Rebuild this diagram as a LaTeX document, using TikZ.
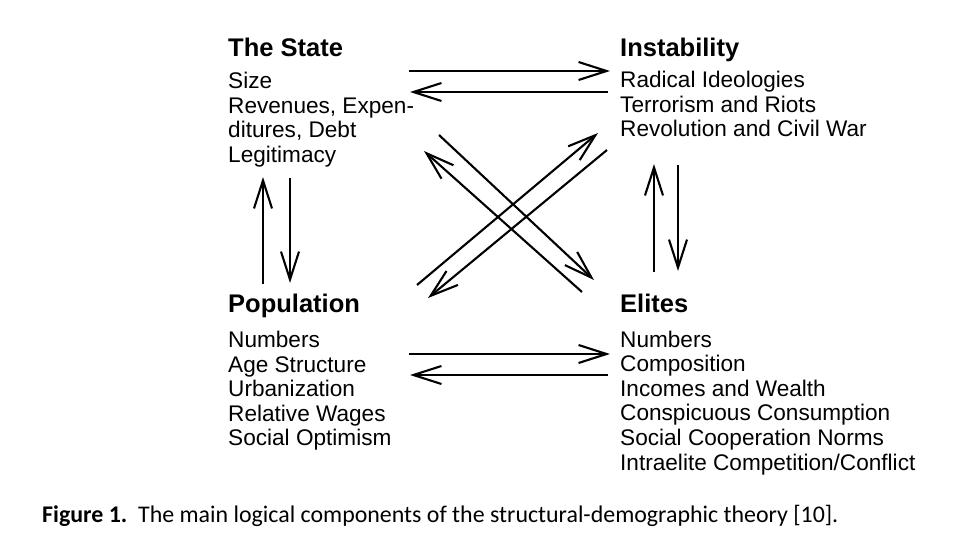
\documentclass[tikz,border=0pt]{standalone}
\usepackage{fontspec}
\setmainfont{Liberation Sans}
\newfontfamily\capfont{Carlito}
\usetikzlibrary{arrows.meta}
\begin{document}
\begin{tikzpicture}[x=1pt,y=-1pt,
  head/.style={font=\fontsize{25.5}{28}\selectfont\bfseries, anchor=base west, inner sep=0pt},
  items/.style={font=\fontsize{22.6}{24.5}\selectfont, anchor=base west, inner sep=0pt},
  arr/.style={line width=2.1pt, -{Straight Barb[length=28pt,width=18pt,line width=2.1pt]}},
  captext/.style={font=\capfont\fontsize{23.9}{26}\selectfont, anchor=base west, inner sep=0pt}
]
\useasboundingbox (0,0) rectangle (980,557);
\fill[white] (0,0) rectangle (980,557);

% titles
\node[head] (stateT) at (228,56) {The State};
\node[head] (instT) at (620,56) {Instability};
\node[head] (popT) at (228,312) {Population};
\node[head] (eliT) at (620,312) {Elites};

% item lists
\foreach \t [count=\i from 0] in {Size, {Revenues, Expen-}, {ditures, Debt}, Legitimacy}
  \node[items] (state\i) at (228,88.5+24.5*\i) {\t};
\foreach \t [count=\i from 0] in {Radical Ideologies, Terrorism and Riots, Revolution and Civil War}
  \node[items] (inst\i) at (620,87.7+24.4*\i) {\t};
\foreach \t [count=\i from 0] in {Numbers, Age Structure, Urbanization, Relative Wages, Social Optimism}
  \node[items] (pop\i) at (228,347.5+24.6*\i) {\t};
\foreach \t [count=\i from 0] in {Numbers, Composition, Incomes and Wealth, Conspicuous Consumption, Social Cooperation Norms, Intraelite Competition/Conflict}
  \node[items] (eli\i) at (620,347+24.6*\i) {\t};

% caption
\node[captext] (caption) at (42,522) {\textbf{Figure 1.}\ \ The main logical components of the structural-demographic theory [10].};

% arrow end points
\coordinate (sI1) at (409,71);   \coordinate (sI2) at (610,71);
\coordinate (iS1) at (608,92);   \coordinate (iS2) at (410,92);
\coordinate (pE1) at (409,354);  \coordinate (pE2) at (610,354);
\coordinate (eP1) at (608,375);  \coordinate (eP2) at (410,375);
\coordinate (pS1) at (263,284);  \coordinate (pS2) at (263,177);
\coordinate (sP1) at (290,178);  \coordinate (sP2) at (290,283);
\coordinate (eI1) at (654,272);  \coordinate (eI2) at (654,164);
\coordinate (iE1) at (678,165);  \coordinate (iE2) at (678,271);
\coordinate (eS1) at (582,292);  \coordinate (eS2) at (424,151);
\coordinate (sE1) at (439,135);  \coordinate (sE2) at (594,280);
\coordinate (pI1) at (417,285);  \coordinate (pI2) at (598,133);
\coordinate (iP1) at (607,150);  \coordinate (iP2) at (428,298);

\draw[arr] (sI1) -- (sI2);
\draw[arr] (iS1) -- (iS2);
\draw[arr] (pE1) -- (pE2);
\draw[arr] (eP1) -- (eP2);
\draw[arr] (pS1) -- (pS2);
\draw[arr] (sP1) -- (sP2);
\draw[arr] (eI1) -- (eI2);
\draw[arr] (iE1) -- (iE2);
\draw[arr] (eS1) -- (eS2);
\draw[arr] (sE1) -- (sE2);
\draw[arr] (pI1) -- (pI2);
\draw[arr] (iP1) -- (iP2);
\end{tikzpicture}
\end{document}
